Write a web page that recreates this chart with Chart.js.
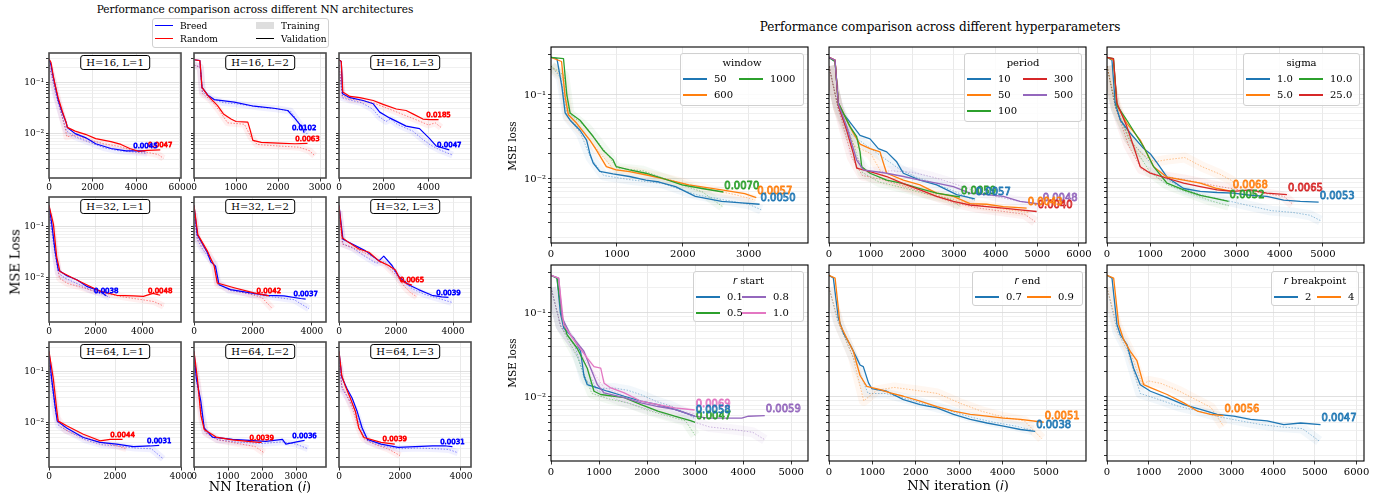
<!DOCTYPE html>
<html>
<head>
<meta charset="utf-8">
<script src="https://cdn.jsdelivr.net/npm/chart.js@4.4.0/dist/chart.umd.min.js"></script>
<style>
  body { margin: 0; background: #fff; width: 1397px; height: 500px; position: relative; overflow: hidden; font-family: 'DejaVu Serif', serif; }
  canvas { position: absolute; }
  .txt { position: absolute; white-space: nowrap; color: #000; transform: translate(-50%, -50%); z-index: 4; }
  .rot { transform: translate(-50%, -50%) rotate(-90deg); }
  .tag { position: absolute; transform: translateX(-50%); border: 1px solid #000; border-radius: 3px; background: #fff; font-size: 10px; line-height: 13px; padding: 0 5px; white-space: nowrap; z-index: 4; }
  .leg { position: absolute; box-sizing: border-box; border: 1px solid #d0d0d0; border-radius: 3px; background: rgba(255,255,255,0.85); z-index: 4; }
  .li { position: absolute; height: 14px; line-height: 14px; display: flex; align-items: center; white-space: nowrap; }
  .sw { display: inline-block; margin-right: 7px; }
  .lt { position: absolute; left: 0; right: 0; text-align: center; line-height: 14px; }
  .m { font-family: 'DejaVu Sans', sans-serif; font-style: italic; }
</style>
</head>
<body>
<div class="txt" style="left:255px;top:9px;font-size:10.5px;">Performance comparison across different NN architectures</div>
<div class="txt" style="left:940px;top:27px;font-size:12px;">Performance comparison across different hyperparameters</div>
<div class="txt rot" style="left:15px;top:262px;font-size:13px;">MSE Loss</div>
<div class="txt" style="left:260px;top:486px;font-size:13px;">NN Iteration (<span class="m">i</span>)</div>
<div class="txt rot" style="left:512px;top:146px;font-size:10.5px;">MSE loss</div>
<div class="txt rot" style="left:512px;top:363px;font-size:10.5px;">MSE loss</div>
<div class="txt" style="left:958px;top:485px;font-size:13px;">NN iteration (<span class="m">i</span>)</div>
<script>
// ---------- left grid: NN architectures (Breed / Random) ----------
const archTags = ['H=16, L=1', 'H=16, L=2', 'H=16, L=3', 'H=32, L=1', 'H=32, L=2', 'H=32, L=3', 'H=64, L=1', 'H=64, L=2', 'H=64, L=3'];
const archXMax = [6050, 3140, 5900, 5650, 4480, 4630, 4000, 3880, 4330];
const archXTicks = [[0, 2000, 4000, 6000], [0, 1000, 2000, 3000], [0, 2000, 4000],
                    [0, 2000, 4000], [0, 2000, 4000], [0, 2000, 4000],
                    [0, 2000, 4000], [0, 1000, 2000, 3000], [0, 2000, 4000]];

const h16l1_breed_val = [[0,0.29],[90,0.22],[190,0.13],[280,0.087],[420,0.045],[600,0.026],[790,0.016],[840,0.013],[1200,0.0098],[1670,0.0082],[2140,0.0062],[2840,0.0050],[3530,0.0045],[4000,0.0045],[4420,0.0045]];
const h16l1_breed_train = [[0,0.22],[150,0.12],[300,0.06],[500,0.03],[800,0.011],[1200,0.0085],[1800,0.0068],[2500,0.0052],[3200,0.0045],[3800,0.0043],[4500,0.0040]];
const h16l1_rand_val = [[0,0.29],[90,0.25],[190,0.14],[280,0.09],[420,0.05],[600,0.028],[790,0.016],[840,0.013],[1200,0.011],[1670,0.0095],[2140,0.0078],[2840,0.0068],[3300,0.0060],[3700,0.0050],[4100,0.0044],[4500,0.0046],[5100,0.0047]];
const h16l1_rand_train = [[0,0.22],[150,0.13],[300,0.07],[500,0.032],[750,0.012],[820,0.0085],[1200,0.0092],[1800,0.0075],[2500,0.0062],[3200,0.0055],[3800,0.0046],[4500,0.0042],[5000,0.0038],[5250,0.0032]];

const h16l2_breed_val = [[0,0.28],[140,0.27],[190,0.08],[330,0.056],[480,0.046],[960,0.041],[1430,0.034],[1900,0.031],[2230,0.028],[2390,0.020],[2500,0.0155],[2580,0.0125],[2620,0.0102]];
const h16l2_breed_train = [[0,0.22],[150,0.2],[200,0.065],[400,0.048],[700,0.040],[1000,0.038],[1500,0.033],[2000,0.03],[2300,0.027],[2450,0.018],[2600,0.012],[2700,0.0095]];
const h16l2_rand_val = [[0,0.28],[140,0.27],[190,0.08],[330,0.055],[560,0.035],[700,0.024],[880,0.019],[1000,0.017],[1280,0.0165],[1330,0.012],[1400,0.0072],[1600,0.0066],[2000,0.0064],[2400,0.0062],[2700,0.0063]];
const h16l2_rand_train = [[0,0.22],[150,0.2],[200,0.06],[400,0.045],[600,0.028],[800,0.016],[1200,0.015],[1350,0.0085],[1500,0.006],[2000,0.0056],[2500,0.0053],[2750,0.0045],[2870,0.0036]];

const h16l3_breed_val = [[0,0.28],[100,0.26],[160,0.060],[490,0.050],[1080,0.044],[1530,0.038],[1820,0.026],[2260,0.020],[3000,0.0138],[3600,0.0123],[4040,0.0079],[4340,0.0056],[4930,0.0047]];
const h16l3_breed_train = [[0,0.22],[150,0.05],[500,0.045],[1000,0.04],[1500,0.03],[1800,0.021],[2100,0.017],[2300,0.019],[2600,0.015],[3000,0.0125],[3300,0.011],[3700,0.0078],[4100,0.0058],[4500,0.0047],[5080,0.0037]];
const h16l3_rand_val = [[0,0.28],[100,0.26],[170,0.065],[490,0.053],[930,0.050],[1530,0.044],[1970,0.037],[2560,0.030],[3000,0.028],[3300,0.024],[3750,0.019],[4040,0.0185],[4450,0.0185]];
const h16l3_rand_train = [[0,0.22],[150,0.055],[500,0.047],[1000,0.044],[1500,0.04],[2000,0.033],[2500,0.027],[3000,0.022],[3500,0.018],[4000,0.0145],[4300,0.016],[4560,0.013]];

const h32l1_breed_val = [[0,0.26],[110,0.12],[260,0.033],[400,0.0138],[760,0.0107],[1190,0.0089],[1610,0.0066],[2190,0.0053],[2450,0.0043]];
const h32l1_breed_train = [[0,0.18],[120,0.08],[250,0.03],[400,0.012],[700,0.0095],[1200,0.0075],[1700,0.0058],[2200,0.0048],[2600,0.0040]];
const h32l1_rand_val = [[0,0.26],[190,0.11],[330,0.025],[470,0.0129],[1040,0.0095],[1610,0.0071],[2190,0.0053],[2900,0.0044],[3610,0.0043],[4040,0.0042],[4450,0.0048],[4760,0.0044]];
const h32l1_rand_train = [[0,0.18],[150,0.09],[300,0.025],[450,0.0095],[800,0.0075],[1300,0.0065],[2000,0.0052],[2700,0.0045],[3300,0.004],[4000,0.0036],[4500,0.0033],[4900,0.0027]];

const h32l2_breed_val = [[0,0.26],[110,0.069],[230,0.052],[450,0.031],[570,0.020],[730,0.0165],[850,0.0071],[1240,0.0057],[1920,0.0049],[2490,0.0044],[3050,0.0043],[3620,0.0038],[3790,0.0037]];
const h32l2_breed_train = [[0,0.18],[110,0.055],[300,0.035],[500,0.025],[700,0.018],[800,0.008],[1200,0.0055],[2000,0.0046],[2800,0.004],[3400,0.0036],[3900,0.0024]];
const h32l2_rand_val = [[0,0.26],[130,0.069],[450,0.033],[560,0.024],[680,0.017],[790,0.0077],[1360,0.0062],[2030,0.0049],[2540,0.0043]];
const h32l2_rand_train = [[0,0.18],[110,0.06],[300,0.04],[500,0.028],[700,0.016],[800,0.0072],[1200,0.0058],[1800,0.0048],[2300,0.004],[2660,0.0024]];

const h32l3_breed_val = [[0,0.26],[140,0.056],[465,0.045],[930,0.033],[1400,0.021],[1570,0.026],[1860,0.017],[2090,0.0103],[2440,0.0071],[2790,0.0057],[3260,0.0044],[3600,0.0041],[3840,0.0040]];
const h32l3_breed_train = [[0,0.2],[140,0.045],[500,0.037],[900,0.026],[1300,0.019],[1600,0.02],[1900,0.014],[2200,0.0085],[2600,0.0058],[3000,0.0046],[3500,0.0038],[3950,0.0032]];
const h32l3_rand_val = [[0,0.26],[115,0.060],[350,0.048],[700,0.036],[1050,0.031],[1400,0.021],[1740,0.017],[1980,0.0138],[2150,0.0089],[2330,0.0077],[2560,0.0070]];
const h32l3_rand_train = [[0,0.2],[120,0.045],[400,0.040],[800,0.032],[1200,0.025],[1600,0.018],[2000,0.011],[2300,0.0065],[2500,0.005],[2730,0.0041]];

const h64l1_breed_val = [[0,0.25],[80,0.072],[180,0.022],[250,0.0105],[535,0.0077],[1040,0.0050],[1545,0.0040],[2050,0.0037],[2560,0.0033],[3060,0.0034],[3340,0.0035]];
const h64l1_breed_train = [[0,0.15],[100,0.045],[200,0.015],[300,0.0085],[600,0.0065],[1100,0.0045],[1600,0.0036],[2100,0.0034],[2600,0.0031],[3100,0.0030],[3460,0.0019]];
const h64l1_rand_val = [[0,0.25],[130,0.072],[230,0.019],[280,0.0105],[535,0.0085],[1040,0.0058],[1545,0.0043],[1850,0.0046],[2230,0.0046]];
const h64l1_rand_train = [[0,0.15],[120,0.05],[250,0.012],[500,0.007],[1000,0.0052],[1500,0.0041],[2000,0.0035],[2350,0.003]];

const h64l2_breed_val = [[0,0.25],[70,0.072],[200,0.026],[300,0.0077],[540,0.0051],[1130,0.0046],[2110,0.0042],[2600,0.0046],[2700,0.0037],[3090,0.0042],[3250,0.0044]];
const h64l2_breed_train = [[0,0.15],[80,0.06],[200,0.02],[320,0.0065],[700,0.0045],[1200,0.0041],[2000,0.0038],[2600,0.0041],[3000,0.0037],[3350,0.003]];
const h64l2_rand_val = [[0,0.25],[100,0.072],[200,0.014],[300,0.0072],[650,0.0051],[1130,0.0045],[1900,0.0040],[1990,0.0040]];
const h64l2_rand_train = [[0,0.15],[100,0.06],[220,0.012],[350,0.006],[700,0.0045],[1300,0.0038],[1800,0.0033],[2060,0.0025]];

const h64l3_breed_val = [[0,0.25],[90,0.078],[260,0.046],[430,0.030],[600,0.016],[760,0.0077],[930,0.0046],[1380,0.0037],[1940,0.0032],[2500,0.0033],[3070,0.0034],[3520,0.0034],[3720,0.0033]];
const h64l3_breed_train = [[0,0.15],[100,0.045],[300,0.03],[550,0.016],[750,0.007],[950,0.0042],[1400,0.0034],[2000,0.003],[2600,0.0031],[3200,0.003],[3600,0.0029],[3900,0.0025]];
const h64l3_rand_val = [[0,0.25],[90,0.083],[200,0.053],[370,0.030],[540,0.016],[650,0.0077],[820,0.0050],[1380,0.0040],[1830,0.0037]];
const h64l3_rand_train = [[0,0.15],[100,0.05],[250,0.035],[450,0.018],[620,0.0085],[800,0.0048],[1200,0.0036],[1600,0.003],[2000,0.0022]];

// final values written at the end of each validation curve: [Breed, Random]
const archFinal = [[0.0045, 0.0047], [0.0102, 0.0063], [0.0047, 0.0185],
                   [0.0038, 0.0048], [0.0037, 0.0042], [0.0039, 0.0065],
                   [0.0031, 0.0044], [0.0036, 0.0039], [0.0031, 0.0039]];

// ---------- right grid: hyperparameters ----------
const windowNames = ['50', '600', '1000'];
const w50_val = [[0,0.28],[90,0.27],[165,0.126],[215,0.061],[290,0.050],[440,0.038],[540,0.029],[590,0.020],[640,0.0155],[740,0.0123],[940,0.0115],[1190,0.0107],[1440,0.0097],[1640,0.0092],[1890,0.0081],[2190,0.0062],[2590,0.0054],[2890,0.0052],[3165,0.0050]];
const w50_train = [[0,0.22],[150,0.16],[250,0.055],[450,0.035],[600,0.018],[800,0.011],[1200,0.0098],[1700,0.0088],[2200,0.0065],[2700,0.0055],[3000,0.0050],[3190,0.0043]];
const w600_val = [[0,0.28],[160,0.25],[215,0.095],[265,0.058],[390,0.046],[590,0.029],[690,0.022],[840,0.014],[990,0.0128],[1190,0.0122],[1490,0.011],[1790,0.0097],[2090,0.0085],[2590,0.0074],[2940,0.0067],[3115,0.0060]];
const w600_train = [[0,0.22],[180,0.16],[260,0.055],[500,0.035],[750,0.02],[950,0.013],[1300,0.012],[1800,0.0098],[2300,0.0078],[2800,0.0065],[3100,0.0056]];
const w1000_val = [[0,0.28],[190,0.27],[240,0.1],[290,0.061],[440,0.050],[640,0.032],[790,0.022],[940,0.017],[990,0.014],[1190,0.0128],[1440,0.0117],[1690,0.0102],[1990,0.0085],[2290,0.0077],[2615,0.0070]];
const w1000_train = [[0,0.22],[200,0.17],[280,0.06],[550,0.04],[850,0.02],[1000,0.0135],[1400,0.0125],[1900,0.009],[2300,0.007],[2600,0.0047]];
const windowFinal = [0.0050, 0.0057, 0.0070];

const periodNames = ['10', '50', '100', '300', '500'];
const p10_val = [[0,0.28],[145,0.25],[225,0.08],[345,0.06],[585,0.042],[745,0.033],[985,0.030],[1185,0.023],[1385,0.021],[1625,0.016],[1785,0.0117],[2185,0.0097],[2585,0.0085],[3065,0.0065],[3500,0.0058]];
const p10_train = [[0,0.22],[200,0.08],[500,0.035],[900,0.025],[1300,0.018],[1700,0.013],[2100,0.0105],[2500,0.009],[2900,0.0075],[3300,0.0062],[3500,0.0055]];
const p50_val = [[0,0.28],[145,0.26],[225,0.08],[425,0.05],[585,0.035],[745,0.026],[985,0.023],[1225,0.021],[1305,0.0155],[1385,0.0117],[1785,0.0097],[2185,0.0085],[2585,0.0068],[2985,0.0062],[3385,0.0051],[3785,0.0050],[4185,0.0047],[4745,0.0045]];
const p50_train = [[0,0.22],[220,0.07],[600,0.025],[1000,0.02],[1300,0.011],[1800,0.0085],[2300,0.0072],[2800,0.006],[3300,0.0052],[3800,0.0047],[4300,0.0043],[4800,0.004]];
const p100_val = [[0,0.28],[145,0.25],[225,0.08],[505,0.042],[665,0.032],[745,0.021],[785,0.014],[985,0.0117],[1385,0.0097],[1785,0.0088],[2185,0.0077],[2585,0.0068],[2985,0.0063],[3145,0.0061]];
const p100_train = [[0,0.22],[220,0.07],[600,0.025],[800,0.012],[1200,0.0092],[1800,0.0078],[2400,0.0065],[2900,0.0058],[3150,0.0047]];
const p300_val = [[0,0.28],[145,0.26],[225,0.075],[425,0.038],[585,0.020],[665,0.0135],[985,0.0122],[1385,0.0107],[1785,0.0088],[2185,0.0074],[2585,0.0062],[2985,0.0054],[3385,0.0049],[3785,0.0047],[4185,0.0045],[4585,0.0043],[4985,0.0041]];
const p300_train = [[0,0.22],[220,0.07],[550,0.018],[800,0.011],[1300,0.0098],[1800,0.0082],[2400,0.0066],[3000,0.0052],[3600,0.0045],[4200,0.0041],[4700,0.0038],[4950,0.0031]];
const p500_val = [[0,0.28],[145,0.26],[225,0.078],[425,0.042],[665,0.0168],[825,0.0128],[1385,0.0117],[1785,0.0107],[2185,0.0097],[2585,0.0089],[2985,0.0081],[3385,0.0068],[3785,0.0065],[4185,0.0062],[4585,0.0054],[5105,0.0050]];
const p500_train = [[0,0.22],[220,0.07],[600,0.02],[900,0.012],[1500,0.0125],[2000,0.012],[2500,0.0105],[3000,0.0088],[3500,0.0072],[4000,0.0062],[4500,0.0055],[5100,0.0049]];
const periodFinal = [0.0057, 0.0043, 0.0059, 0.0040, 0.0048];

const sigmaNames = ['1.0', '5.0', '10.0', '25.0'];
const s1_val = [[0,0.28],[115,0.26],[190,0.08],[310,0.05],[540,0.035],[850,0.023],[1000,0.020],[1160,0.0155],[1390,0.0105],[1775,0.0077],[2160,0.0071],[2550,0.0069],[2930,0.0068],[3320,0.0064],[3700,0.0062],[4090,0.0056],[4475,0.0054],[4900,0.0053]];
const s1_train = [[0,0.22],[200,0.07],[500,0.03],[900,0.018],[1300,0.0105],[1800,0.0075],[2300,0.0062],[2800,0.0055],[3300,0.0048],[3800,0.0042],[4300,0.0040],[4700,0.0037],[4940,0.0032]];
const s5_val = [[0,0.28],[150,0.26],[230,0.075],[460,0.046],[770,0.029],[930,0.020],[1080,0.014],[1390,0.0105],[1775,0.0097],[2160,0.0089],[2550,0.0077],[2890,0.0071]];
const s5_train = [[0,0.22],[200,0.08],[500,0.03],[800,0.02],[1100,0.016],[1400,0.017],[1800,0.018],[2200,0.014],[2600,0.0115],[2900,0.0095],[2980,0.008]];
const s10_val = [[0,0.28],[150,0.27],[230,0.075],[460,0.05],[850,0.024],[1080,0.014],[1390,0.0089],[1775,0.0074],[2160,0.0064],[2470,0.0059],[2815,0.0054]];
const s10_train = [[0,0.22],[200,0.07],[600,0.025],[1000,0.012],[1400,0.0085],[1900,0.0068],[2400,0.0055],[2820,0.0048]];
const s25_val = [[0,0.28],[150,0.27],[230,0.08],[460,0.042],[620,0.024],[770,0.014],[1000,0.0117],[1390,0.0102],[1775,0.0089],[2160,0.0081],[2550,0.0074],[2930,0.0071],[3320,0.0074],[3700,0.0068],[4165,0.0065]];
const s25_train = [[0,0.22],[200,0.07],[500,0.025],[800,0.013],[1200,0.011],[1800,0.0098],[2400,0.0085],[3000,0.0075],[3600,0.0068],[4100,0.0062],[4300,0.005]];
const sigmaFinal = [0.0053, 0.0068, 0.0052, 0.0065];

const rStartNames = ['0.1', '0.5', '0.8', '1.0'];
const rs01_val = [[0,0.28],[125,0.26],[195,0.1],[265,0.066],[475,0.05],[615,0.035],[685,0.018],[755,0.014],[965,0.0128],[1175,0.0117],[1525,0.0102],[1875,0.0089],[2225,0.0081],[2575,0.0071],[2990,0.0059]];
const rs01_train = [[0,0.2],[200,0.07],[500,0.04],[700,0.016],[1000,0.0125],[1300,0.0128],[1600,0.012],[1900,0.0105],[2200,0.0088],[2500,0.0078],[2800,0.0065],[3000,0.0055]];
const rs05_val = [[0,0.28],[125,0.26],[230,0.088],[335,0.055],[545,0.038],[755,0.022],[895,0.0117],[1035,0.0107],[1525,0.0098],[1875,0.0081],[2225,0.0068],[2575,0.0059],[2920,0.0052],[3000,0.0050]];
const rs05_train = [[0,0.2],[200,0.07],[550,0.03],[850,0.011],[1200,0.0095],[1600,0.0085],[2000,0.007],[2400,0.006],[2800,0.0052],[3000,0.0035]];
const rs08_val = [[0,0.28],[160,0.26],[230,0.088],[405,0.055],[685,0.035],[825,0.022],[965,0.014],[1105,0.0112],[1525,0.0098],[1875,0.0085],[2225,0.0077],[2575,0.0071],[2990,0.0059],[3270,0.0056],[3620,0.0056],[3970,0.0056],[4110,0.0059],[4450,0.0060]];
const rs08_train = [[0,0.2],[200,0.07],[650,0.03],[950,0.012],[1400,0.0092],[1900,0.0075],[2400,0.0062],[2900,0.0052],[3300,0.0044],[3800,0.0041],[4200,0.0038],[4450,0.0031]];
const rs10_val = [[0,0.28],[160,0.26],[265,0.072],[545,0.042],[755,0.029],[895,0.023],[1035,0.022],[1105,0.0146],[1245,0.0128],[1525,0.0112],[1875,0.0089],[2225,0.0081],[2575,0.0074],[2990,0.0070]];
const rs10_train = [[0,0.2],[200,0.07],[700,0.028],[1100,0.013],[1500,0.0105],[2000,0.0085],[2500,0.0072],[3000,0.0063]];
const rStartFinal = [0.0058, 0.0047, 0.0059, 0.0069];

const rEndNames = ['0.7', '0.9'];
const re07_val = [[0,0.28],[100,0.26],[215,0.087],[330,0.058],[485,0.042],[640,0.029],[715,0.024],[790,0.023],[910,0.0147],[985,0.0126],[1330,0.0117],[1715,0.0093],[2100,0.0081],[2485,0.0074],[2870,0.0062],[3255,0.0054],[3640,0.0049],[4020,0.0045],[4410,0.0041],[4750,0.0039]];
const re07_train = [[0,0.2],[200,0.08],[500,0.035],[700,0.02],[900,0.011],[1300,0.011],[1800,0.0095],[2300,0.008],[2800,0.0068],[3300,0.0057],[3800,0.005],[4300,0.0045],[4700,0.004]];
const re09_val = [[0,0.28],[140,0.26],[255,0.073],[410,0.05],[560,0.035],[715,0.018],[870,0.0134],[1180,0.0122],[1410,0.0112],[1715,0.0102],[2100,0.0089],[2485,0.0077],[2870,0.0068],[3255,0.0062],[3640,0.0059],[4020,0.0056],[4410,0.0054],[4945,0.0050]];
const re09_train = [[0,0.2],[250,0.07],[550,0.03],[800,0.009],[1100,0.012],[1500,0.013],[2000,0.012],[2500,0.011],[3000,0.0085],[3500,0.0068],[4000,0.0058],[4500,0.0052],[4900,0.0032]];
const rEndFinal = [0.0038, 0.0051];

const rBpNames = ['2', '4'];
const rb2_val = [[0,0.28],[120,0.26],[240,0.073],[320,0.055],[480,0.042],[640,0.022],[800,0.014],[1045,0.0117],[1445,0.0098],[1845,0.0081],[2250,0.0071],[2650,0.0062],[3050,0.0059],[3450,0.0054],[3850,0.0052],[4250,0.0047],[4655,0.0049],[5135,0.0047]];
const rb2_train = [[0,0.2],[250,0.06],[500,0.035],[800,0.011],[1200,0.0095],[1700,0.0078],[2200,0.0068],[2700,0.0058],[3200,0.0052],[3700,0.0047],[4200,0.0044],[4700,0.0042],[5100,0.003]];
const rb4_val = [[0,0.28],[160,0.26],[280,0.073],[400,0.048],[560,0.035],[720,0.027],[880,0.014],[1045,0.0129],[1445,0.0107],[1845,0.0085],[2170,0.0068],[2490,0.0062],[2800,0.0060]];
const rb4_train = [[0,0.2],[250,0.07],[550,0.035],[850,0.014],[1000,0.0155],[1300,0.0145],[1700,0.012],[2100,0.0095],[2500,0.0075],[2800,0.0045]];
const rBpFinal = [0.0047, 0.0056];

const hyperXMax = [3900, 6170, 5950, 5350, 5920, 6180];
const hyperXTicks = [[0, 1000, 2000, 3000], [0, 1000, 2000, 3000, 4000, 5000, 6000], [0, 1000, 2000, 3000, 4000, 5000],
                     [0, 1000, 2000, 3000, 4000, 5000], [0, 1000, 2000, 3000, 4000, 5000], [0, 1000, 2000, 3000, 4000, 5000, 6000]];

// ---------- helpers ----------
Chart.defaults.font.family = "'DejaVu Serif', serif";
Chart.defaults.color = '#000';

const BLUE = '#0000ff', RED = '#ff0000';
const TAB = ['#1f77b4', '#ff7f0e', '#2ca02c', '#d62728', '#9467bd', '#e377c2'];

function rgba(hex, a) {
  const n = parseInt(hex.slice(1), 16);
  return `rgba(${n >> 16},${(n >> 8) & 255},${n & 255},${a})`;
}
const pts = arr => arr.map(p => ({ x: p[0], y: p[1] }));

function logTicks(min, max) {
  const out = [];
  for (let e = -4; e <= 0; e++) {
    for (let m = 1; m <= 9; m++) {
      const v = m * Math.pow(10, e);
      if (v >= min && v <= max) out.push({ value: v, major: m === 1 });
    }
  }
  return out;
}
const SUP = { '-1': '\u207B\u00B9', '-2': '\u207B\u00B2', '-3': '\u207B\u00B3' };
function logLabel(v) {
  const e = Math.round(Math.log10(v));
  return Math.abs(v / Math.pow(10, e) - 1) < 1e-6 ? '10' + SUP[e] : '';
}

function panel(p) {
  const padT = 8, padR = 16;
  const W = p.yW + p.w + padR, H = padT + p.h + p.xH;
  const cv = document.createElement('canvas');
  cv.width = W; cv.height = H;
  cv.style.left = (p.x - p.yW) + 'px';
  cv.style.top = (p.y - padT) + 'px';
  document.body.appendChild(cv);

  const datasets = [];
  p.series.slice().reverse().forEach(s => {
    datasets.push({ data: pts(s.val), borderColor: s.color, borderWidth: p.lineW, order: 1, endLabel: s.final.toFixed(4), labelColor: s.color });
    datasets.push({ data: pts(s.train), borderColor: rgba(s.color, 0.5), borderWidth: 0.9, borderDash: [1.5, 1.5], order: 2 });
    datasets.push({ data: pts(s.train), borderColor: rgba(s.color, 0.06), borderWidth: p.bandW, order: 3 });
  });

  const frame = {
    id: 'frame',
    afterDraw(chart) {
      const a = chart.chartArea, ctx = chart.ctx;
      ctx.save();
      ctx.strokeStyle = p.frameColor;
      ctx.lineWidth = p.frameW;
      ctx.strokeRect(a.left, a.top, a.right - a.left, a.bottom - a.top);
      ctx.restore();
    }
  };
  const endLabels = {
    id: 'endLabels',
    afterDatasetsDraw(chart) {
      const ctx = chart.ctx;
      ctx.save();
      ctx.font = p.endFont;
      ctx.textAlign = p.endAlign;
      ctx.textBaseline = 'bottom';
      ctx.lineJoin = 'round';
      chart.data.datasets.forEach((ds, i) => {
        if (!ds.endLabel) return;
        const meta = chart.getDatasetMeta(i);
        const last = meta.data[meta.data.length - 1];
        const x = last.x + (p.endAlign === 'left' ? 1 : 0), y = last.y - 1;
        ctx.fillStyle = rgba(ds.labelColor, 0.35);
        ctx.fillText(ds.endLabel, x, y);
        ctx.strokeStyle = ds.labelColor;
        ctx.lineWidth = 0.8;
        ctx.strokeText(ds.endLabel, x, y);
      });
      ctx.restore();
    }
  };

  new Chart(cv, {
    type: 'line',
    data: { datasets },
    options: {
      responsive: false, animation: false, devicePixelRatio: 1, events: [],
      layout: { padding: { top: padT, right: padR, left: 0, bottom: 0 } },
      elements: { point: { radius: 0 }, line: { tension: 0, fill: false, borderJoinStyle: 'round' } },
      plugins: { legend: { display: false }, tooltip: { enabled: false } },
      scales: {
        x: {
          type: 'linear', bounds: 'data', min: 0, max: p.xMax,
          afterBuildTicks: s => { s.ticks = p.xTicks.map(v => ({ value: v })); },
          afterFit: s => { s.height = p.xH; },
          ticks: { autoSkip: false, maxRotation: 0, padding: p.xPad, font: { size: p.tickFont }, callback: v => String(v) },
          grid: { color: '#e3e3e3', lineWidth: 0.8, tickColor: '#000', tickLength: 3.5 },
          border: { display: false }
        },
        y: {
          type: 'logarithmic', bounds: 'data', min: p.yMin, max: p.yMax,
          afterBuildTicks: s => { s.ticks = logTicks(p.yMin, p.yMax); },
          afterFit: s => { s.width = p.yW; },
          ticks: { display: p.yLabels, autoSkip: false, padding: 2, font: { size: p.tickFont }, callback: logLabel },
          grid: { color: c => (c.tick && c.tick.major ? '#d8d8d8' : '#ececec'), lineWidth: 0.8, tickColor: '#000', tickLength: 3 },
          border: { display: false }
        }
      }
    },
    plugins: [frame, endLabels]
  });
}

// ---------- build left grid ----------
const archData = [
  [h16l1_breed_val, h16l1_breed_train, h16l1_rand_val, h16l1_rand_train],
  [h16l2_breed_val, h16l2_breed_train, h16l2_rand_val, h16l2_rand_train],
  [h16l3_breed_val, h16l3_breed_train, h16l3_rand_val, h16l3_rand_train],
  [h32l1_breed_val, h32l1_breed_train, h32l1_rand_val, h32l1_rand_train],
  [h32l2_breed_val, h32l2_breed_train, h32l2_rand_val, h32l2_rand_train],
  [h32l3_breed_val, h32l3_breed_train, h32l3_rand_val, h32l3_rand_train],
  [h64l1_breed_val, h64l1_breed_train, h64l1_rand_val, h64l1_rand_train],
  [h64l2_breed_val, h64l2_breed_train, h64l2_rand_val, h64l2_rand_train],
  [h64l3_breed_val, h64l3_breed_train, h64l3_rand_val, h64l3_rand_train]
];
const leftCols = [49, 194, 339], leftRows = [53, 197, 342];
archData.forEach((d, k) => {
  const c = k % 3, r = Math.floor(k / 3);
  panel({
    x: leftCols[c], y: leftRows[r], w: 132, h: 125,
    yW: c === 0 ? 30 : 6, xH: 18, xPad: 1, yLabels: c === 0, tickFont: 9,
    xMax: archXMax[k], xTicks: archXTicks[k], yMin: 0.00131, yMax: 0.38,
    lineW: 1.2, bandW: 7, frameColor: '#4a4a4a', frameW: 1.6,
    endFont: "7px 'DejaVu Sans'", endAlign: 'center',
    series: [
      { val: d[0], train: d[1], color: BLUE, final: archFinal[k][0] },
      { val: d[2], train: d[3], color: RED, final: archFinal[k][1] }
    ]
  });
  const t = document.createElement('div');
  t.className = 'tag';
  t.textContent = archTags[k];
  t.style.left = (leftCols[c] + 66) + 'px';
  t.style.top = (leftRows[r] + 2) + 'px';
  document.body.appendChild(t);
});

// ---------- build right grid ----------
const hyper = [
  { names: windowNames, final: windowFinal, data: [[w50_val, w50_train], [w600_val, w600_train], [w1000_val, w1000_train]] },
  { names: periodNames, final: periodFinal, data: [[p10_val, p10_train], [p50_val, p50_train], [p100_val, p100_train], [p300_val, p300_train], [p500_val, p500_train]] },
  { names: sigmaNames, final: sigmaFinal, data: [[s1_val, s1_train], [s5_val, s5_train], [s10_val, s10_train], [s25_val, s25_train]] },
  { names: rStartNames, final: rStartFinal, data: [[rs01_val, rs01_train], [rs05_val, rs05_train], [rs08_val, rs08_train], [rs10_val, rs10_train]], colors: [TAB[0], TAB[2], TAB[4], TAB[5]] },
  { names: rEndNames, final: rEndFinal, data: [[re07_val, re07_train], [re09_val, re09_train]] },
  { names: rBpNames, final: rBpFinal, data: [[rb2_val, rb2_train], [rb4_val, rb4_train]] }
];
const rightCols = [551, 829, 1107], rightRows = [47, 265];
hyper.forEach((g, k) => {
  const c = k % 3, r = Math.floor(k / 3);
  const colors = g.colors || TAB;
  panel({
    x: rightCols[c], y: rightRows[r], w: 257, h: 196,
    yW: c === 0 ? 32 : 6, xH: 20, xPad: 2, yLabels: c === 0, tickFont: 10,
    xMax: hyperXMax[k], xTicks: hyperXTicks[k], yMin: 0.00173, yMax: 0.372,
    lineW: 1.3, bandW: 10, frameColor: '#000', frameW: 1.1,
    endFont: "10px 'DejaVu Sans'", endAlign: 'left',
    series: g.data.map((d, i) => ({ val: d[0], train: d[1], color: colors[i], final: g.final[i] }))
  });
  g.colors = colors;
});

// ---------- legends ----------
function legend(o) {
  const d = document.createElement('div');
  d.className = 'leg';
  Object.assign(d.style, { left: o.x + 'px', top: o.y + 'px', width: o.w + 'px', height: o.h + 'px', fontSize: o.fs + 'px' });
  let html = o.title ? `<div class="lt" style="top:${o.titleTop}px">${o.title}</div>` : '';
  o.items.forEach((it, k) => {
    const col = Math.floor(k / o.rows), row = k % o.rows;
    const top = o.row0 + row * o.rowH - 8;
    const left = o.padL + col * o.colW;
    const sh = it.patch ? 7 : o.swH;
    html += `<div class="li" style="left:${left}px;top:${top}px"><span class="sw" style="width:${o.swW}px;height:${sh}px;background:${it.color}"></span>${it.label}</div>`;
  });
  d.innerHTML = html;
  document.body.appendChild(d);
}

legend({ x: 152, y: 18, w: 177, h: 30, fs: 9, rows: 2, row0: 7.5, rowH: 13, padL: 2, colW: 101, swW: 18, swH: 1.5,
  items: [{ label: 'Breed', color: BLUE }, { label: 'Random', color: RED },
          { label: 'Training', color: 'rgba(0,0,0,0.13)', patch: true }, { label: 'Validation', color: '#000' }] });

const legendBoxes = [
  { x: 680, y: 53, w: 124, h: 53, colW: 56, title: 'window' },
  { x: 964, y: 53, w: 118, h: 69, colW: 56, title: 'period' },
  { x: 1243, y: 53, w: 117, h: 53, colW: 53, title: 'sigma' },
  { x: 693, y: 271, w: 111, h: 51, colW: 46, title: '<span class="m">r</span> start' },
  { x: 972, y: 271, w: 111, h: 35, colW: 52, title: '<span class="m">r</span> end' },
  { x: 1271, y: 271, w: 88, h: 35, colW: 43, title: '<span class="m">r</span> breakpoint' }
];
hyper.forEach((g, k) => {
  const b = legendBoxes[k];
  legend({ x: b.x, y: b.y, w: b.w, h: b.h, fs: 10, title: b.title, titleTop: 2,
    rows: Math.ceil(g.names.length / 2), row0: 26, rowH: 16, padL: 2, colW: b.colW, swW: 24, swH: 2,
    items: g.names.map((n, i) => ({ label: n, color: g.colors[i] })) });
});
</script>
</body>
</html>
